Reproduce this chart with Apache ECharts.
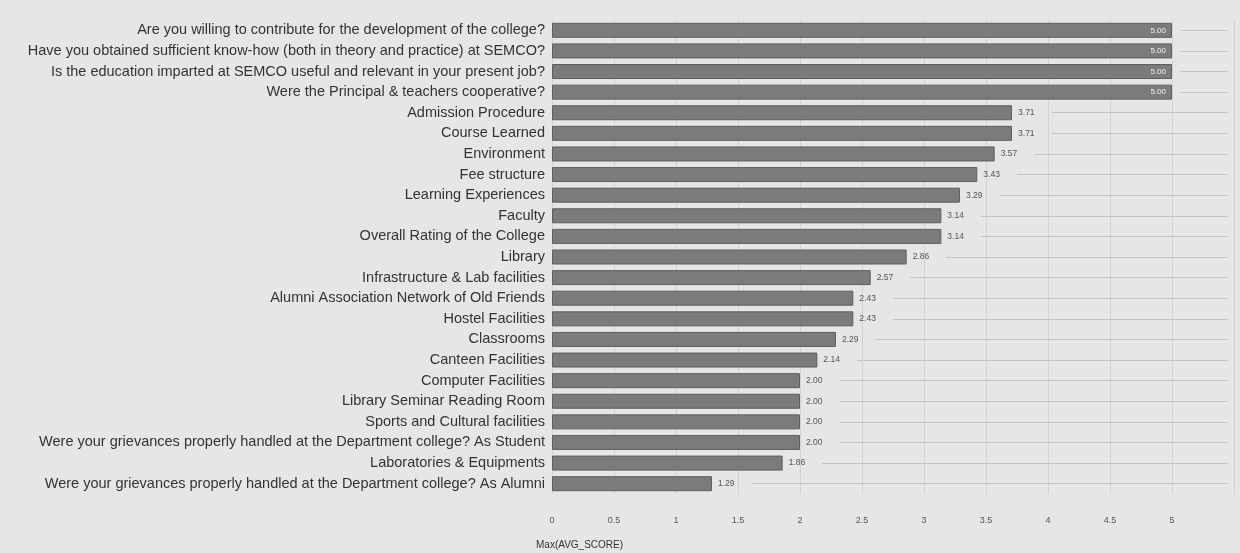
<!DOCTYPE html>
<html><head><meta charset="utf-8">
<script src="https://cdn.jsdelivr.net/npm/echarts@6/dist/echarts.min.js"></script>
<style>html,body{margin:0;padding:0;background:#e6e6e6;}#c{width:1240px;height:553px;}</style>
</head><body><div id="c"></div>
<script>
const categories = [
  "Are you willing to contribute for the development of the college?",
  "Have you obtained sufficient know-how (both in theory and practice) at SEMCO?",
  "Is the education imparted at SEMCO useful and relevant in your present job?",
  "Were the Principal & teachers cooperative?",
  "Admission Procedure",
  "Course Learned",
  "Environment",
  "Fee structure",
  "Learning Experiences",
  "Faculty",
  "Overall Rating of the College",
  "Library",
  "Infrastructure & Lab facilities",
  "Alumni Association Network of Old Friends",
  "Hostel Facilities",
  "Classrooms",
  "Canteen Facilities",
  "Computer Facilities",
  "Library Seminar Reading Room",
  "Sports and Cultural facilities",
  "Were your grievances properly handled at the Department college? As Student",
  "Laboratories & Equipments",
  "Were your grievances properly handled at the Department college? As Alumni"
];
const values = [5.00,5.00,5.00,5.00,3.71,3.71,3.57,3.43,3.29,3.14,3.14,2.86,2.57,2.43,2.43,2.29,2.14,2.00,2.00,2.00,2.00,1.86,1.29];
const xTicks = {min:0, max:5.5, interval:0.5};
const axisName = "Max(AVG_SCORE)";

const chart = echarts.init(document.getElementById('c'));
const seriesData = values.map(v => v >= 5 ? {value:v, label:{position:'insideRight', color:'#f2f2f2', fontSize:8}} : {value:v});
const guideLines = values.map((v,i) => [{coord:[v + (v>=5?0.07:0.32), categories[i]]},{coord:[xTicks.max - 0.05, categories[i]]}]);
chart.setOption({
  backgroundColor:'#e6e6e6',
  animation:false,
  grid:{left:552, right:6, top:20, bottom:59, containLabel:false},
  xAxis:{type:'value', min:xTicks.min, max:xTicks.max, interval:xTicks.interval,
    axisLine:{show:false}, axisTick:{show:false},
    axisLabel:{color:'#555', fontSize:9, margin:22, fontFamily:'Liberation Sans, Arial',
      formatter:v => v > 5 ? '' : String(v)},
    splitLine:{show:true, lineStyle:{color:'#d2d2d2', width:1}},
    name:axisName, nameLocation:'start', nameGap:0,
    nameTextStyle:{color:'#333', fontSize:10, fontFamily:'Liberation Sans, Arial', align:'left', verticalAlign:'top', padding:[46,0,0,-16]}
  },
  yAxis:{type:'category', data:categories, inverse:true,
    axisLine:{show:false}, axisTick:{show:false},
    axisLabel:{color:'#333', fontSize:14.5, margin:7, fontFamily:'Liberation Sans, Arial'}},
  series:[{type:'bar', data:seriesData, barWidth:15,
    itemStyle:{color:'#7b7b7b', borderColor:'#5e5e5e', borderWidth:1},
    label:{show:true, position:'right', distance:6, color:'#555', fontSize:8.5, fontFamily:'Liberation Sans, Arial',
      formatter:p => p.value.toFixed(2)},
    markLine:{silent:true, symbol:'none', label:{show:false},
      lineStyle:{color:'#c4c4c4', width:1, type:'solid'}, data:guideLines}
  }]
});
</script></body></html>
